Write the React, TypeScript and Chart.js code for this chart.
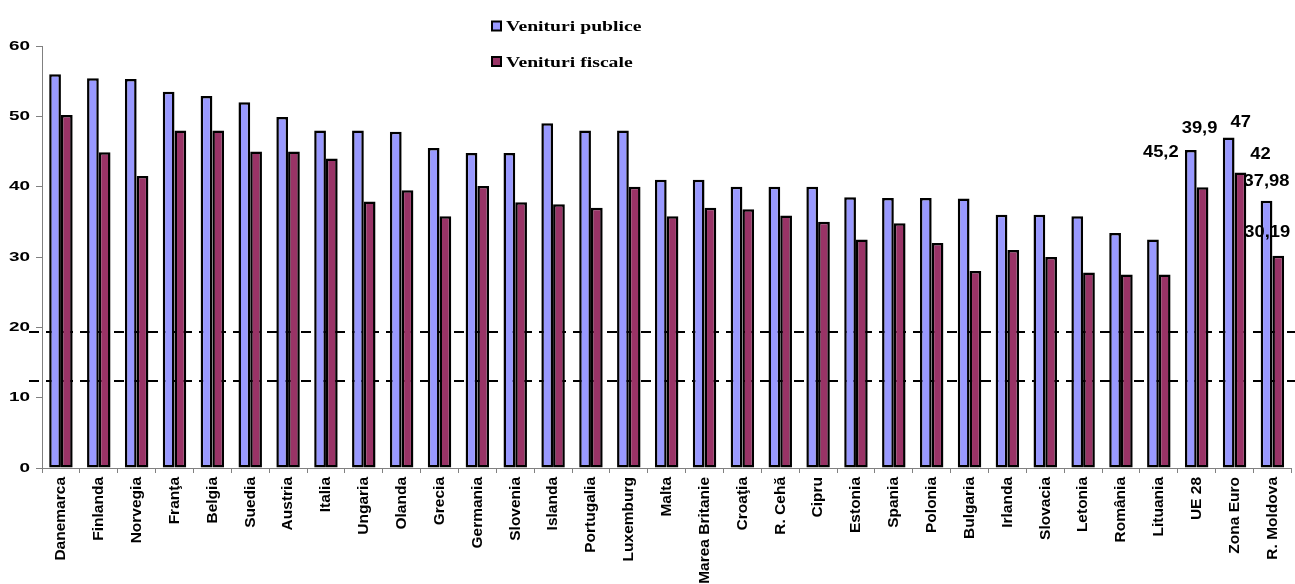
import React, { useEffect, useRef } from "react";
import { Chart, registerables } from "chart.js";

Chart.register(...registerables);

const categories = [
  "Danemarca", "Finlanda", "Norvegia", "Franţa", "Belgia", "Suedia", "Austria",
  "Italia", "Ungaria", "Olanda", "Grecia", "Germania", "Slovenia", "Islanda",
  "Portugalia", "Luxemburg", "Malta", "Marea Britanie", "Croaţia", "R. Cehă",
  "Cipru", "Estonia", "Spania", "Polonia", "Bulgaria", "Irlanda", "Slovacia",
  "Letonia", "România", "Lituania", "UE 28", "Zona Euro", "R. Moldova",
];

const venituriPublice = [
  56.0, 55.4, 55.3, 53.5, 52.9, 52.0, 49.9, 48.0, 48.0, 47.8, 45.5, 44.8, 44.8,
  49.0, 48.0, 48.0, 41.0, 41.0, 40.0, 40.0, 40.0, 38.5, 38.4, 38.4, 38.3, 36.0,
  36.0, 35.8, 33.4, 32.5, 45.2, 47.0, 37.98,
];

const venituriFiscale = [
  50.2, 44.9, 41.5, 48.0, 48.0, 45.0, 45.0, 44.0, 37.9, 39.5, 35.8, 40.1, 37.8,
  37.5, 37.0, 40.0, 35.8, 37.0, 36.8, 35.9, 35.0, 32.5, 34.8, 32.0, 28.0, 31.0,
  30.0, 27.8, 27.5, 27.5, 39.9, 42.0, 30.19,
];

const seriesNames = ["Venituri publice", "Venituri fiscale"];
const yMin = 0;
const yMax = 60;
const yStep = 10;
const dashedLevels = [19.35, 12.34];
const labelledCategories = ["UE 28", "Zona Euro", "R. Moldova"];

const SANS = '"Liberation Sans", Arial, sans-serif';
const SERIF = '"Liberation Serif", "Times New Roman", serif';

function drawStretched(
  ctx: CanvasRenderingContext2D,
  text: string,
  x: number,
  y: number,
  sx: number,
  align: CanvasTextAlign
) {
  ctx.save();
  ctx.translate(x, y);
  ctx.scale(sx, 1);
  ctx.textAlign = align;
  ctx.fillText(text, 0, 0);
  ctx.restore();
}

// label offsets (dx, dy) from the bar top centre, per dataset and labelled category
const labelOffsets: Record<string, [number, number]>[] = [
  { "UE 28": [-30, 2], "Zona Euro": [12, -15], "R. Moldova": [0, -20] },
  { "UE 28": [-3, -59], "Zona Euro": [20, -18], "R. Moldova": [-11, -23] },
];

const dashedPlugin = {
  id: "dashedLevels",
  beforeDatasetsDraw(chart: any) {
    const { ctx } = chart;
    const y = chart.scales.y;
    ctx.save();
    ctx.strokeStyle = "#000";
    ctx.lineWidth = 2;
    ctx.setLineDash([10, 7]);
    dashedLevels.forEach((lv) => {
      const py = Math.round(y.getPixelForValue(lv));
      ctx.beginPath();
      ctx.moveTo(y.right - 13, py);
      ctx.lineTo(chart.width, py);
      ctx.stroke();
    });
    ctx.restore();
  },
};

const yLabelPlugin = {
  id: "yLabels",
  afterDraw(chart: any) {
    const { ctx } = chart;
    const y = chart.scales.y;
    ctx.save();
    ctx.fillStyle = "#000";
    ctx.font = `bold 13.5px ${SANS}`;
    ctx.textBaseline = "middle";
    y.ticks.forEach((t: any) => {
      const py = y.getPixelForValue(t.value);
      drawStretched(ctx, String(t.value), y.right - 12, py, 1.4, "right");
    });
    ctx.restore();
  },
};

const legendPlugin = {
  id: "customLegend",
  afterDraw(chart: any) {
    const { ctx } = chart;
    ctx.save();
    chart.data.datasets.forEach((ds: any, i: number) => {
      const cy = 26 + i * 35.5;
      ctx.fillStyle = ds.backgroundColor;
      ctx.fillRect(492, cy - 4.5, 9, 9);
      ctx.strokeStyle = "#000";
      ctx.lineWidth = 2;
      ctx.strokeRect(492, cy - 4.5, 9, 9);
      ctx.fillStyle = "#000";
      ctx.font = `bold 15.5px ${SERIF}`;
      ctx.textBaseline = "middle";
      drawStretched(ctx, ds.label, 506, cy + 1, 1.27, "left");
    });
    ctx.restore();
  },
};

const valueLabelPlugin = {
  id: "valueLabels",
  afterDatasetsDraw(chart: any) {
    const { ctx } = chart;
    ctx.save();
    ctx.fillStyle = "#000";
    ctx.font = `bold 17px ${SANS}`;
    ctx.textBaseline = "middle";
    chart.data.datasets.forEach((ds: any, di: number) => {
      const meta = chart.getDatasetMeta(di);
      labelledCategories.forEach((cat) => {
        const idx = categories.indexOf(cat);
        const el = meta.data[idx];
        const v = ds.data[idx];
        const [dx, dy] = labelOffsets[di][cat];
        const txt = String(v).replace(".", ",");
        drawStretched(ctx, txt, el.x + dx, el.y + dy, 1.08, "center");
      });
    });
    ctx.restore();
  },
};

export default function App() {
  const canvasRef = useRef<HTMLCanvasElement | null>(null);

  useEffect(() => {
    if (!canvasRef.current) return;
    const chart = new Chart(canvasRef.current, {
      type: "bar",
      data: {
        labels: categories,
        datasets: [
          {
            label: seriesNames[0],
            data: venituriPublice,
            backgroundColor: "#9999FF",
            borderColor: "#000000",
            borderWidth: 2.5,
            borderSkipped: false,
            categoryPercentage: 0.62,
            barPercentage: 1.0,
          },
          {
            label: seriesNames[1],
            data: venituriFiscale,
            backgroundColor: "#993366",
            borderColor: "#000000",
            borderWidth: 2.5,
            borderSkipped: false,
            categoryPercentage: 0.62,
            barPercentage: 1.0,
          },
        ],
      },
      options: {
        animation: false,
        responsive: false,
        devicePixelRatio: 1,
        layout: { padding: { top: 46, left: 0, right: 0, bottom: 0 } },
        plugins: {
          legend: { display: false },
          tooltip: { enabled: false },
          title: { display: false },
        },
        scales: {
          x: {
            offset: true,
            grid: {
              display: true,
              drawOnChartArea: false,
              offset: true,
              tickLength: 5,
              color: "#808080",
            },
            border: { display: true, color: "#808080", width: 1 },
            ticks: {
              autoSkip: false,
              maxRotation: 90,
              minRotation: 90,
              padding: 4,
              color: "#000",
              font: { family: SANS, size: 15.5, weight: "bold" },
            },
            afterFit(scale: any) {
              scale.height = 116;
            },
          },
          y: {
            min: yMin,
            max: yMax,
            ticks: { stepSize: yStep, display: false },
            grid: {
              display: true,
              drawOnChartArea: false,
              tickLength: 6,
              color: "#808080",
            },
            border: { display: true, color: "#808080", width: 1 },
            afterFit(scale: any) {
              scale.width = 42;
            },
          },
        },
      },
      plugins: [dashedPlugin, valueLabelPlugin, yLabelPlugin, legendPlugin],
    } as any);
    return () => chart.destroy();
  }, []);

  return (
    <div style={{ position: "fixed", left: 0, top: 0, width: 1295, height: 584, background: "#fff" }}>
      <canvas ref={canvasRef} width={1295} height={584} />
    </div>
  );
}
